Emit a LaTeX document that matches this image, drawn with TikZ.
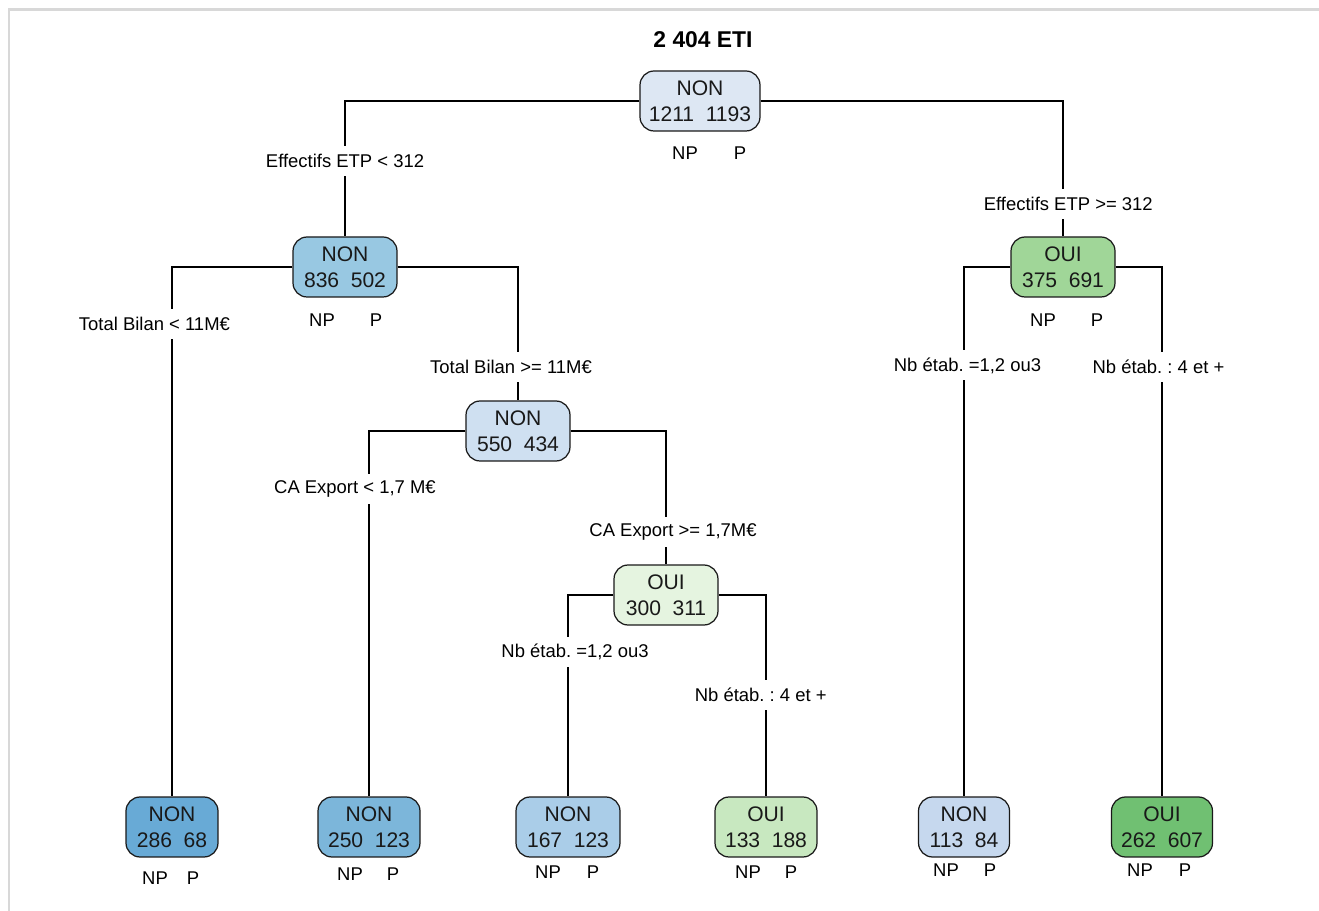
\documentclass[tikz,border=0pt]{standalone}
\usepackage{fontspec}
\setmainfont{Liberation Sans}
\usetikzlibrary{positioning}

\definecolor{fillroot}{RGB}{221,231,243}
\definecolor{filltwo}{RGB}{152,200,226}
\definecolor{fillfour}{RGB}{207,224,241}
\definecolor{filleleven}{RGB}{229,244,224}
\definecolor{fillthree}{RGB}{160,214,152}
\definecolor{leafa}{RGB}{104,170,214}
\definecolor{leafb}{RGB}{124,182,218}
\definecolor{leafc}{RGB}{170,205,232}
\definecolor{leafd}{RGB}{200,232,192}
\definecolor{leafe}{RGB}{198,216,238}
\definecolor{leaff}{RGB}{112,192,114}
\definecolor{frame}{RGB}{216,216,216}

\begin{document}
\begin{tikzpicture}[x=0.02cm, y=-0.02cm,
	box/.style={rectangle, rounded corners=8pt, draw=black!90, line width=0.7pt,
		minimum height=1.2cm, inner sep=0pt, align=center,
		font=\fontsize{12}{14.7}\selectfont, text=black!90},
	cut/.style={fill=white, inner sep=1pt, minimum height=0.6cm,
		font=\fontsize{10.5}{12}\selectfont},
	cls/.style={font=\fontsize{10.5}{12}\selectfont},
	edge/.style={line width=0.8pt}]
	\useasboundingbox (0,0) rectangle (1319,911);
	\draw[frame, line width=1.7pt] (9,911) -- (9,10) -- (1319,10);

	\node (title)[font=\fontsize{13}{15}\selectfont\bfseries] at (703,40) {2 404 ETI};

	% root and first split
	\node (n1)[box, fill=fillroot, minimum width=2.4cm] at (700,101) {NON\\1211\hspace{0.55em}1193};
	\node (n1np)[cls] at (685,153) {NP};
	\node (n1p)[cls] at (740,153) {P};

	\node (n2)[box, fill=filltwo, minimum width=2.08cm] at (345,267) {NON\\836\hspace{0.55em}502};
	\node (n2np)[cls] at (322,320) {NP};
	\node (n2p)[cls] at (376,320) {P};

	\node (n3)[box, fill=fillthree, minimum width=2.08cm] at (1063,267) {OUI\\375\hspace{0.55em}691};
	\node (n3np)[cls] at (1043,320) {NP};
	\node (n3p)[cls] at (1097,320) {P};

	\node (n5)[box, fill=fillfour, minimum width=2.08cm] at (518,431) {NON\\550\hspace{0.55em}434};
	\node (n11)[box, fill=filleleven, minimum width=2.08cm] at (666,595) {OUI\\300\hspace{0.55em}311};

	% leaves
	\node (n4)[box, fill=leafa, minimum width=1.84cm] at (172,827) {NON\\286\hspace{0.55em}68};
	\node (n4np)[cls] at (155,878) {NP};
	\node (n4p)[cls] at (193,878) {P};

	\node (n10)[box, fill=leafb, minimum width=2.04cm] at (369,827) {NON\\250\hspace{0.55em}123};
	\node (n10np)[cls] at (350,874) {NP};
	\node (n10p)[cls] at (393,874) {P};

	\node (n22)[box, fill=leafc, minimum width=2.08cm] at (568,827) {NON\\167\hspace{0.55em}123};
	\node (n22np)[cls] at (548,872) {NP};
	\node (n22p)[cls] at (593,872) {P};

	\node (n23)[box, fill=leafd, minimum width=2.04cm] at (766,827) {OUI\\133\hspace{0.55em}188};
	\node (n23np)[cls] at (748,872) {NP};
	\node (n23p)[cls] at (791,872) {P};

	\node (n6)[box, fill=leafe, minimum width=1.82cm] at (964,827) {NON\\113\hspace{0.55em}84};
	\node (n6np)[cls] at (946,870) {NP};
	\node (n6p)[cls] at (990,870) {P};

	\node (n7)[box, fill=leaff, minimum width=2.02cm] at (1162,827) {OUI\\262\hspace{0.55em}607};
	\node (n7np)[cls] at (1140,870) {NP};
	\node (n7p)[cls] at (1185,870) {P};

	% splits
	\draw[edge] (n1) -| (n2) node[cut, pos=0.72] {Effectifs ETP < 312};
	\draw[edge] (n1) -| (n3) node[cut, pos=0.88, xshift=3] {Effectifs ETP >= 312};

	\draw[edge] (n2) -| (n4) node[cut, pos=0.554, xshift=-10] {Total Bilan < 11M€};
	\draw[edge] (n2) -| (n5) node[cut, pos=0.874, xshift=-4] {Total Bilan >= 11M€};

	\draw[edge] (n5) -| (n10) node[cut, pos=0.58, xshift=-8] {CA Export < 1,7 M€};
	\draw[edge] (n5) -| (n11) node[cut, pos=0.877, xshift=4] {CA Export >= 1,7M€};

	\draw[edge] (n11) -| (n22) node[cut, pos=0.641, xshift=4] {Nb étab.\ =1,2 ou3};
	\draw[edge] (n11) -| (n23) node[cut, pos=0.748, xshift=-3] {Nb étab.\ :\ 4 et +};

	\draw[edge] (n3) -| (n6) node[cut, pos=0.593, xshift=2] {Nb étab.\ =1,2 ou3};
	\draw[edge] (n3) -| (n7) node[cut, pos=0.594, xshift=-2] {Nb étab.\ :\ 4 et +};
\end{tikzpicture}
\end{document}
